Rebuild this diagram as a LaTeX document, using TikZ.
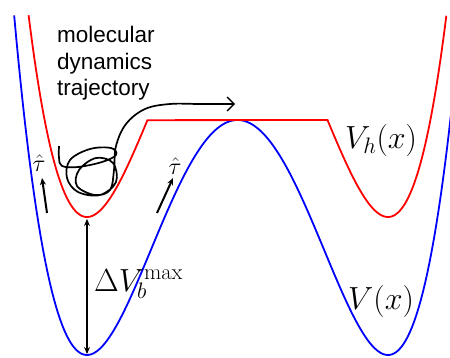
\RequirePackage{fix-cm}
\documentclass[tikz,border=0pt]{standalone}
\usepackage{fontspec}
\newfontfamily\labelsans{Liberation Sans}
\usetikzlibrary{arrows.meta}
\begin{document}
\begin{tikzpicture}[x={(1pt,0)},y={(0,-1pt)},
  curve/.style={line width=1.8pt},
  bluecurve/.style={curve,draw={rgb,255:red,0;green,0;blue,255}},
  redcurve/.style={curve,draw={rgb,255:red,255;green,0;blue,0},line join=miter},
  thick arrow/.style={line width=2pt,-{Stealth[length=7pt,width=6pt]}},
  dbl arrow/.style={line width=2pt,{Stealth[length=7pt,width=6pt]}-{Stealth[length=7pt,width=6pt]}},
  traj/.style={line width=1.7pt,-{Straight Barb[length=7pt,width=14pt,line width=1.4pt]}},
  mathlabel/.style={inner sep=0pt,font=\fontsize{32}{35}\selectfont},
  taulabel/.style={inner sep=0pt,font=\fontsize{24}{26}\selectfont}
]
\useasboundingbox (0,0) rectangle (450,358);
\clip (0,0) rectangle (450,358);

% V(x)
\draw[bluecurve] plot[domain=-1.484:1.44,samples=200]
  ({237.5+150.5*\x},{355-235*(\x*\x-1)^2});

% V_h(x)
\draw[redcurve] plot[domain=-1.388:-0.598,samples=80]
  ({237.5+150.5*\x},{217-235*(\x*\x-1)^2})
  -- (327.5,120)
  -- plot[domain=0.598:1.388,samples=80]
  ({237.5+150.5*\x},{217-235*(\x*\x-1)^2});

% Delta V arrow
\coordinate (redmin) at (87,219);
\coordinate (bluemin) at (87,354);
\draw[dbl arrow] (redmin) -- (bluemin);
\node[mathlabel,anchor=base west] (dv) at (94,291) {$\Delta V_b^{\max}$};

% labels
\node[mathlabel,anchor=base west] (vh) at (345,149) {$V_h(x)$};
\node[mathlabel,anchor=base west] (v) at (348,309) {$V(x)$};

% tau arrows
\node[taulabel] (tauL) at (39,163) {$\hat\tau$};
\node[taulabel] (tauR) at (175,166) {$\hat\tau$};
\coordinate (tauLtail) at (47,213);
\coordinate (tauRtail) at (157,213);
\draw[thick arrow] (tauLtail) -- (42,178) coordinate (tauLtip);
\draw[thick arrow] (tauRtail) -- (173,178) coordinate (tauRtip);

% text
\node[anchor=north west,inner sep=0pt,align=left,
  font=\labelsans\fontsize{22.5}{26.5}\selectfont] (mdt) at (57,26)
  {molecular\\dynamics\\trajectory};

% trajectory
\coordinate (trajend) at (235,104);
\draw[traj] plot[smooth,tension=0.6] coordinates {
  (59,146) (59,158) (62,166) (78,167) (102,162) (116,155) (111,148)
  (90,149) (70,160) (67,178) (78,192) (100,195) (116,182) (113,163)
  (96,158) (79,170) (77,186) (95,195) (110,190) (114,170) (116,146)
  (126,124) (145,109) (170,104) (200,104) (235,104)};
\end{tikzpicture}
\end{document}
